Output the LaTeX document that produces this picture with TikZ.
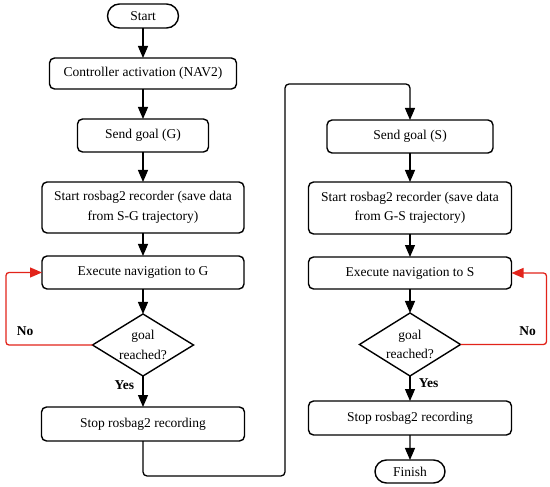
\documentclass[tikz,border=0pt]{standalone}
\usepackage{fontspec}
\setmainfont{Liberation Serif}
\usepackage{tikz}
\usetikzlibrary{arrows.meta,positioning,shapes.geometric,shapes.misc}
\definecolor{loopred}{HTML}{E2231A}

\begin{document}
\begin{tikzpicture}[x=1pt,y=1pt,font=\fontsize{13.5}{19.5}\selectfont,
   box/.style={draw,rounded corners=5pt,line width=1.4pt,outer sep=0pt,
               inner sep=2pt,align=center,minimum height=33pt},
   term/.style={draw,rounded rectangle,line width=1.4pt,outer sep=0pt,
               inner sep=2pt,minimum height=24pt},
   decide/.style={draw,diamond,aspect=1.63,line width=1.4pt,outer sep=0pt,
               inner sep=0pt,align=center,minimum width=101pt,minimum height=62pt},
   flow/.style={line width=1.3pt,-{Triangle[length=12pt,width=10pt]}},
   back/.style={flow,draw=loopred,rounded corners=3pt,
               -{Triangle[length=12pt,width=10pt,fill=loopred]}}]
  \useasboundingbox (0,0) rectangle (550,-487);

  % left column: S -> G
  \node[term,minimum width=75pt] (start) at (143,-16) {Start};
  \node[box,minimum width=187pt,minimum height=31pt,below=30pt of start] (ctrl)
    {Controller activation (NAV2)};
  \node[box,minimum width=131pt,below=30pt of ctrl] (sendG) {Send goal (G)};
  \node[box,minimum width=202pt,minimum height=51pt,below=30pt of sendG] (recG)
    {Start rosbag2 recorder (save data\\from S-G trajectory)};
  \node[box,minimum width=202pt,below=23pt of recG] (execG) {Execute navigation to G};
  \node[decide,below=25pt of execG] (decG) {goal\\reached?};
  \node[box,minimum width=203pt,minimum height=34pt,below=31pt of decG] (stopG)
    {Stop rosbag2 recording};

  % right column: G -> S
  \node[box,minimum width=166pt] (sendS) at (410,-136.5) {Send goal (S)};
  \node[box,minimum width=203pt,minimum height=52pt,below=29pt of sendS] (recS)
    {Start rosbag2 recorder (save data\\from G-S trajectory)};
  \node[box,minimum width=203pt,minimum height=32pt,below=23pt of recS] (execS)
    {Execute navigation to S};
  \node[decide,minimum height=63pt,below=24pt of execS] (decS) {goal\\reached?};
  \node[box,minimum width=203pt,minimum height=34pt,below=25pt of decS] (stopS)
    {Stop rosbag2 recording};
  \node[term,minimum width=74pt,minimum height=23pt,below=25pt of stopS] (finish)
    {Finish};

  \coordinate (bendlo) at (285,-476);
  \coordinate (bendhi) at (285,-84);

  \draw[flow] (start) -- (ctrl);
  \draw[flow] (ctrl) -- (sendG);
  \draw[flow] (sendG) -- (recG);
  \draw[flow] (recG) -- (execG);
  \draw[flow] (execG) -- (decG);
  \draw[flow] (decG) -- node[pos=0.3,left=5pt,font=\fontsize{13.5}{16}\selectfont\bfseries]{Yes} (stopG);
  \draw[back] (decG.west) -| ([xshift=-36pt]execG.west)
    node[pos=0.39,above=5pt,text=black,font=\fontsize{13.5}{16}\selectfont\bfseries]{No}
    -- (execG.west);

  \draw[flow,rounded corners=4pt] (stopG.south) |- (bendlo) -- (bendhi) -| (sendS.north);

  \draw[flow] (sendS) -- (recS);
  \draw[flow] (recS) -- (execS);
  \draw[flow] (execS) -- (decS);
  \draw[flow] (decS) -- node[pos=0.3,right=5pt,font=\fontsize{13.5}{16}\selectfont\bfseries]{Yes} (stopS);
  \draw[back] (decS.east) -| ([xshift=35pt]execS.east)
    node[pos=0.39,above=5pt,text=black,font=\fontsize{13.5}{16}\selectfont\bfseries]{No}
    -- (execS.east);
  \draw[flow] (stopS) -- (finish);
\end{tikzpicture}
\end{document}
